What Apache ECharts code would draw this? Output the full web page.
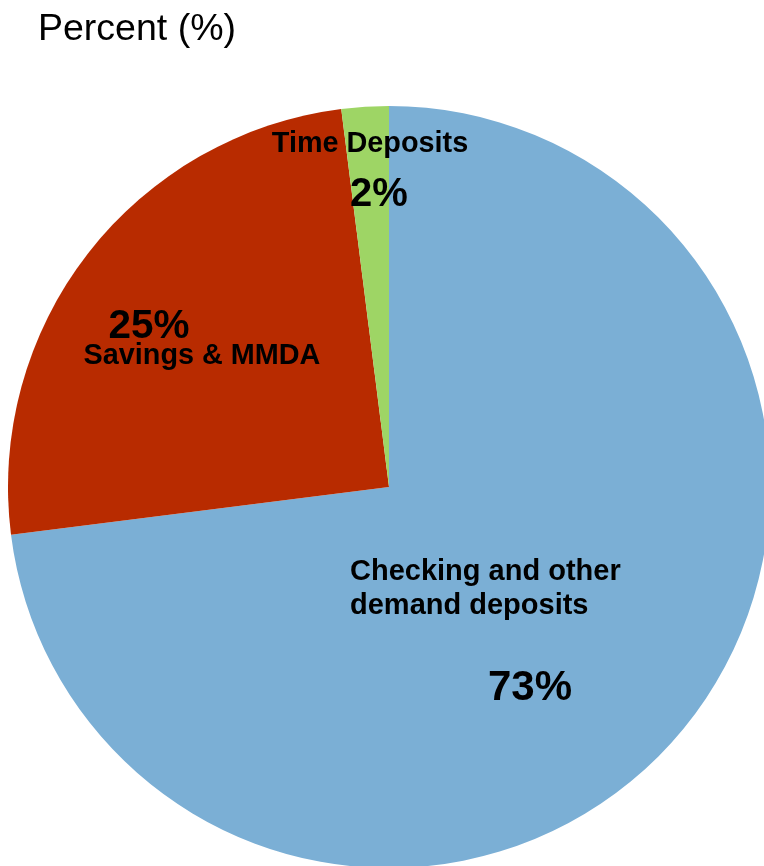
<!DOCTYPE html>
<html>
<head>
<meta charset="utf-8">
<style>
  html, body { margin: 0; padding: 0; background: #ffffff; }
  #chart { width: 764px; height: 866px; }
</style>
<script src="https://cdn.jsdelivr.net/npm/echarts@6/dist/echarts.min.js"></script>
</head>
<body>
<div id="chart"></div>
<script>
// Deposit composition, percent of total
const categories = ['Checking and other\ndemand deposits', 'Savings & MMDA', 'Time Deposits'];
const values = [73, 25, 2];
const colors = ['#7BAFD5', '#B82B00', '#9ED565'];
const titleText = 'Percent (%)';

const FONT = '"Liberation Sans", Arial, sans-serif';

const chart = echarts.init(document.getElementById('chart'), null, { renderer: 'canvas' });

function txt(text, x, y, size, align, weight) {
  return {
    type: 'text',
    x: x, y: y,
    style: {
      text: text,
      fill: '#000000',
      font: (weight || 'bold') + ' ' + size + 'px ' + FONT,
      textAlign: align || 'center',
      textVerticalAlign: 'middle',
      lineHeight: 34
    },
    z: 10
  };
}

const pct = v => v + '%';

chart.setOption({
  animation: false,
  backgroundColor: '#ffffff',
  series: [{
    type: 'pie',
    center: [389, 487],
    radius: 381,
    startAngle: 90,
    clockwise: true,
    label: { show: false },
    labelLine: { show: false },
    emphasis: { disabled: true },
    itemStyle: { borderWidth: 0 },
    data: categories.map((c, i) => ({
      name: c,
      value: values[i],
      itemStyle: { color: colors[i] }
    }))
  }],
  graphic: [
    txt(titleText, 38, 30, 37.5, 'left', 'normal'),
    txt(categories[2], 370, 144, 28.8),
    txt(pct(values[2]), 379, 195, 40),
    txt(pct(values[1]), 149, 327, 40.5),
    txt(categories[1], 202, 356, 28.8),
    txt(categories[0], 350, 589, 29, 'left'),
    txt(pct(values[0]), 530, 688, 42)
  ]
});
</script>
</body>
</html>
